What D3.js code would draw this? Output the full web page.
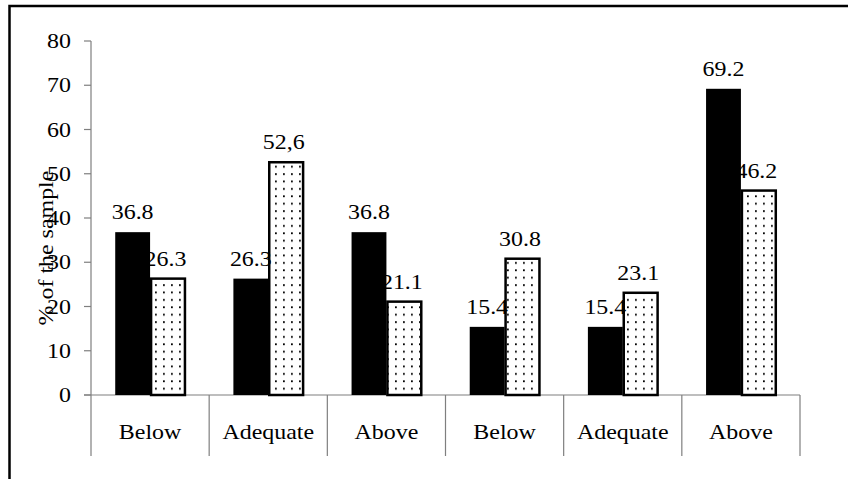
<!DOCTYPE html>
<html>
<head>
<meta charset="utf-8">
<script src="https://cdn.jsdelivr.net/npm/d3@7"></script>
<style>
  body { margin: 0; background: #fff; }
</style>
</head>
<body>
<div id="chart"></div>
<script>
const categories = ["Below", "Adequate", "Above", "Below", "Adequate", "Above"];
const solidValues = [36.8, 26.3, 36.8, 15.4, 15.4, 69.2];
const dottedValues = [26.3, 52.6, 21.1, 30.8, 23.1, 46.2];
const solidLabels = ["36.8", "26.3", "36.8", "15.4", "15.4", "69.2"];
const dottedLabels = ["26.3", "52,6", "21.1", "30.8", "23.1", "46.2"];
const yTicks = [0, 10, 20, 30, 40, 50, 60, 70, 80];

const width = 848, height = 479;
const margin = { left: 91, right: 48, top: 41, bottom: 84 };
const fontSize = 21;
const stretch = 1.14; // reference text is a bit wide

const svg = d3.select('#chart')
    .append('svg')
    .attr('width', width)
    .attr('height', height)
    .attr('font-family', "'Liberation Serif', 'Times New Roman', serif");

svg.append('rect')
    .attr('width', width)
    .attr('height', height)
    .attr('fill', '#fff');

// dot pattern for the second series
const defs = svg.append('defs');
const pattern = defs.append('pattern')
    .attr('id', 'dots')
    .attr('patternUnits', 'userSpaceOnUse')
    .attr('width', 8)
    .attr('height', 7.4);
pattern.append('rect')
    .attr('width', 8)
    .attr('height', 7.4)
    .attr('fill', '#fff');
pattern.append('rect')
    .attr('x', 3)
    .attr('y', 3)
    .attr('width', 1.8)
    .attr('height', 1.8)
    .attr('fill', '#000');

// outer frame (left + top edges)
svg.append('path')
    .attr('d', d3.line()([[9.5, height], [9.5, 6], [width, 6]]))
    .attr('fill', 'none')
    .attr('stroke', '#000')
    .attr('stroke-width', 2.5);

const x = d3.scaleBand()
    .domain(d3.range(categories.length))
    .range([margin.left, width - margin.right]);

const y = d3.scaleLinear()
    .domain([0, 80])
    .range([height - margin.bottom, margin.top]);

const y0 = y(0);
const axisColor = '#7f7f7f';

function label(g, tx, ty, str, anchor) {
    return g.append('text')
        .attr('transform', `translate(${tx},${ty}) scale(${stretch},1)`)
        .attr('text-anchor', anchor || 'middle')
        .attr('font-size', fontSize)
        .attr('fill', '#000')
        .text(str);
}

// y axis
svg.append('line')
    .attr('x1', margin.left).attr('x2', margin.left)
    .attr('y1', y(80)).attr('y2', y0)
    .attr('stroke', axisColor)
    .attr('stroke-width', 1.2);

svg.selectAll('.ytick')
    .data(yTicks)
    .enter()
    .append('line')
    .attr('x1', margin.left - 7).attr('x2', margin.left)
    .attr('y1', d => y(d)).attr('y2', d => y(d))
    .attr('stroke', axisColor)
    .attr('stroke-width', 1.2);

yTicks.forEach(t => label(svg, margin.left - 20, y(t) + 7, t, 'end'));

// bottom axis with category separators
svg.append('line')
    .attr('x1', margin.left - 7).attr('x2', width - margin.right)
    .attr('y1', y0).attr('y2', y0)
    .attr('stroke', axisColor)
    .attr('stroke-width', 1.2);

const seps = d3.range(categories.length + 1).map(i => margin.left + i * x.step());
svg.selectAll('.sep')
    .data(seps)
    .enter()
    .append('line')
    .attr('x1', d => d).attr('x2', d => d)
    .attr('y1', y0).attr('y2', y0 + 61)
    .attr('stroke', axisColor)
    .attr('stroke-width', 1.2);

categories.forEach((c, i) => label(svg, x(i) + x.bandwidth() / 2, y0 + 44, c));

// bars
const barW = x.bandwidth() * 0.295;
const gap = (x.bandwidth() - 2 * barW) / 2;

svg.selectAll('.solid')
    .data(solidValues)
    .enter()
    .append('rect')
    .attr('x', (d, i) => x(i) + gap)
    .attr('y', d => y(d))
    .attr('width', barW)
    .attr('height', d => y0 - y(d))
    .attr('fill', '#000');

svg.selectAll('.dotted')
    .data(dottedValues)
    .enter()
    .append('rect')
    .attr('x', (d, i) => x(i) + gap + barW + 1)
    .attr('y', d => y(d))
    .attr('width', barW - 1)
    .attr('height', d => y0 - y(d))
    .attr('fill', 'url(#dots)')
    .attr('stroke', '#000')
    .attr('stroke-width', 2.5);

// value labels
solidValues.forEach((v, i) => label(svg, x(i) + gap + barW / 2, y(v) - 13, solidLabels[i]));
dottedValues.forEach((v, i) => label(svg, x(i) + gap + barW * 1.5 - 2, y(v) - 13, dottedLabels[i]));

// y axis title
svg.append('text')
    .attr('transform', `translate(53, ${y(40) + 30}) rotate(-90) scale(${stretch},1)`)
    .attr('text-anchor', 'middle')
    .attr('font-size', fontSize)
    .attr('fill', '#000')
    .text('% of the sample');
</script>
</body>
</html>
